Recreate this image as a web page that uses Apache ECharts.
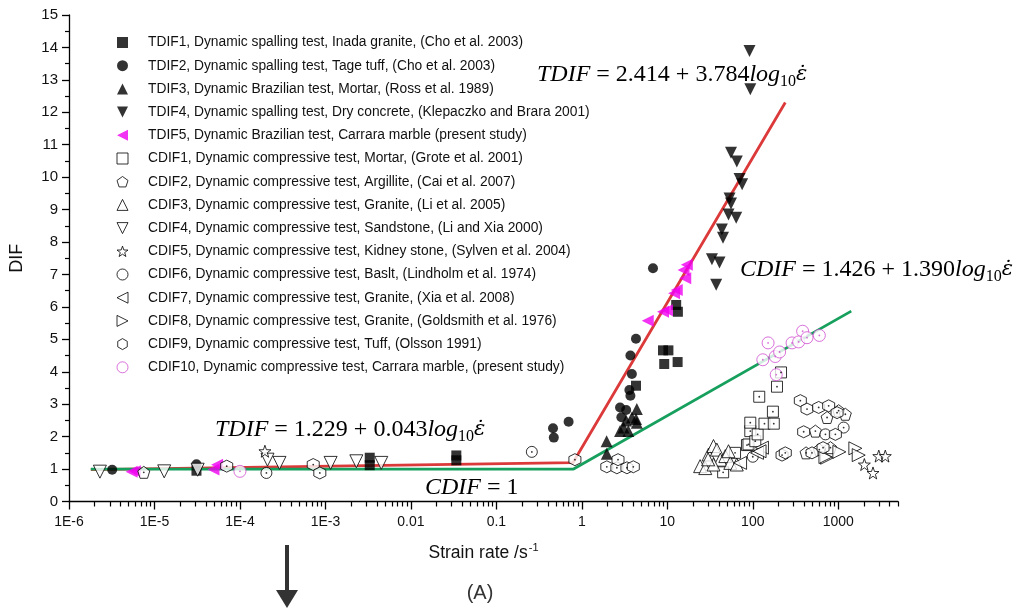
<!DOCTYPE html>
<html>
<head>
<meta charset="utf-8">
<script src="https://cdn.jsdelivr.net/npm/echarts@6/dist/echarts.min.js"></script>
<style>
html,body{margin:0;padding:0;background:#fff;}
#main{width:1025px;height:608px;}
</style>
</head>
<body>
<div id="main"></div>
<script>
// x 轴刻度
var xTickValues = [1e-6, 1e-5, 1e-4, 1e-3, 0.01, 0.1, 1, 10, 100, 1000];
var xTickLabels = ['1E-6', '1E-5', '1E-4', '1E-3', '0.01', '0.1', '1', '10', '100', '1000'];

// 图例名称
var seriesNames = [
	'TDIF1, Dynamic spalling test, Inada granite, (Cho et al. 2003)',
	'TDIF2, Dynamic spalling test, Tage tuff, (Cho et al. 2003)',
	'TDIF3, Dynamic Brazilian test, Mortar, (Ross et al. 1989)',
	'TDIF4, Dynamic spalling test, Dry concrete, (Klepaczko and Brara 2001)',
	'TDIF5, Dynamic Brazilian test, Carrara marble (present study)',
	'CDIF1, Dynamic compressive test, Mortar, (Grote et al. 2001)',
	'CDIF2, Dynamic compressive test, Argillite, (Cai et al. 2007)',
	'CDIF3, Dynamic compressive test, Granite, (Li et al. 2005)',
	'CDIF4, Dynamic compressive test, Sandstone, (Li and Xia 2000)',
	'CDIF5, Dynamic compressive test, Kidney stone, (Sylven et al. 2004)',
	'CDIF6, Dynamic compressive test, Baslt, (Lindholm et al. 1974)',
	'CDIF7, Dynamic compressive test, Granite, (Xia et al. 2008)',
	'CDIF8, Dynamic compressive test, Granite, (Goldsmith et al. 1976)',
	'CDIF9, Dynamic compressive test, Tuff, (Olsson 1991)',
	'CDIF10, Dynamic compressive test, Carrara marble, (present study)'
];

// 数据 [应变率, DIF]
var tdif1 = [[3.1e-5,0.95],[3.3e-3,1.35],[3.3e-3,1.12],[0.034,1.42],[0.034,1.27],[4.3,3.57],[8.9,4.66],[10.3,4.66],[9.2,4.24],[13.2,4.3],[12.7,6.06],[13.3,5.85]];
var tdif2 = [[3.2e-6,0.98],[3.1e-5,1.15],[0.46,2.26],[0.47,1.97],[0.7,2.46],[2.8,2.9],[3.3,2.82],[2.9,2.6],[3.6,3.44],[3.7,3.26],[3.85,3.93],[3.7,4.5],[4.3,5.02],[6.8,7.19]];
var tdif3 = [[1.95,1.86],[1.96,1.47],[2.8,2.17],[3.07,2.28],[3.5,2.17],[3.85,2.59],[4.3,2.54],[4.4,2.85],[4.4,2.43],[3.3,2.5]];
var tdif4 = [[55.6,10.75],[65,10.48],[70,9.94],[75,9.78],[53.5,9.34],[55.6,9.19],[52,8.85],[64,8.75],[43.5,8.39],[44.8,8.13],[33.3,7.47],[40.8,7.37],[37.3,6.68],[91.6,13.89],[93.5,12.71]];
var tdif5 = [[5.4e-6,0.92],[5.9e-6,0.93],[4.9e-5,0.99],[5.4e-5,1.13],[5.9,5.57],[8.9,5.85],[9.9,5.9],[12,6.42],[12.9,6.52],[16.2,6.88],[15.5,7.14],[16.9,7.3]];
var cdif1 = [[85.5,1.74],[89,1.76],[93.5,2.17],[93.5,2.43],[107,1.86],[114,2.07],[119,3.23],[137,2.4],[172,2.77],[176,2.4],[192,3.54],[214,3.98],[62,1.5],[45,0.9]];
var cdif2 = [[7.5e-6,0.9],[540,2.17],[740,2.59],[1010,2.8],[1210,2.69],[810,1.66],[600,1.6],[420,1.5]];
var cdif3 = [[24.2,1.09],[27.8,1.03],[30.4,1.45],[34.7,1.71],[38,1.6],[41.7,1.29],[47.7,1.4],[54.6,1.19],[34.7,1.14],[65,1.14],[52,1.55],[30,1.3]];
var cdif4 = [[2.3e-6,0.92],[1.3e-5,0.93],[3.2e-5,0.98],[2.1e-4,1.29],[2.9e-4,1.19],[1.15e-3,1.19],[2.3e-3,1.24],[4.5e-3,1.19]];
var cdif5 = [[1.96e-4,1.55],[2980,1.4],[3550,1.4],[2020,1.14],[2550,0.88]];
var cdif6 = [[2.04e-4,0.88],[0.26,1.53],[1156,2.28],[708,2.07],[100,1.38]];
var cdif7 = [[128,1.66],[112,1.5],[71,1.19],[120,1.55]];
var cdif8 = [[740,1.35],[1030,1.53],[1585,1.64],[1735,1.43],[708,1.37]];
var cdif9 = [[1.96,1.07],[2.57,1.04],[3.37,1.04],[4.0,1.07],[2.65,1.29],[0.83,1.29],[7e-5,1.09],[7.2e-4,1.14],[8.6e-4,0.88],[360,3.11],[431,2.85],[590,2.9],[772,2.95],[968,2.74],[394,2.15],[925,2.07],[220,1.43],[240,1.5],[493,1.5],[664,1.66]];
var cdif10 = [[1e-4,0.93],[151,4.89],[383,5.25],[601,5.12],[288,4.89],[344,4.92],[431,5.05],[131,4.37],[183,4.47],[206,4.61],[188,3.91]];

// 拟合线
var tdifLine = [[1.8e-6,0.98],[0.79,1.2],[240,12.3]];
var cdifLine = [[1.8e-6,1.0],[0.8,1.0],[1420,5.87]];

// 符号
var triUp = 'path://M5,0L10,10L0,10Z';
var triDown = 'path://M0,0L10,0L5,10Z';
var triLeft = 'path://M0,5L10,0L10,10Z';
var triRight = 'path://M0,0L10,5L0,10Z';
var pentagon = 'path://M0,-10L9.51,-3.09L5.88,8.09L-5.88,8.09L-9.51,-3.09Z';
var hexagon = 'path://M0,-10L8.66,-5L8.66,5L0,10L-8.66,5L-8.66,-5Z';
var star = 'path://M0,-10L2.35,-3.24L9.51,-3.09L3.8,1.24L5.88,8.09L0,4L-5.88,8.09L-3.8,1.24L-9.51,-3.09L-2.35,-3.24Z';

var filled = function(c){ return {color:c, borderWidth:0}; };
var hollow = function(c){ return {color:'#fff', borderColor:c, borderWidth:1}; };

var styles = [
	{data:tdif1, symbol:'rect', size:10, item:filled('#000')},
	{data:tdif2, symbol:'circle', size:10, item:filled('#000')},
	{data:tdif3, symbol:triUp, size:12, item:filled('#000')},
	{data:tdif4, symbol:triDown, size:12, item:filled('#000')},
	{data:tdif5, symbol:triLeft, size:12, item:filled('#f000f0')},
	{data:cdif1, symbol:'rect', size:11, item:hollow('#000'), dot:true},
	{data:cdif2, symbol:pentagon, size:12, item:hollow('#000'), dot:true},
	{data:cdif3, symbol:triUp, size:13, item:hollow('#000')},
	{data:cdif4, symbol:triDown, size:13, item:hollow('#000')},
	{data:cdif5, symbol:star, size:12, item:hollow('#000')},
	{data:cdif6, symbol:'circle', size:11, item:hollow('#000'), dot:true},
	{data:cdif7, symbol:triLeft, size:13, item:hollow('#000')},
	{data:cdif8, symbol:triRight, size:13, item:hollow('#000')},
	{data:cdif9, symbol:hexagon, size:12, item:hollow('#000'), dot:true},
	{data:cdif10, symbol:'circle', size:12, item:hollow('#d04fd0'), dot:true}
];

var minorValues = [];
for (var e = -6; e <= 3; e++) {
	for (var k = 2; k <= 9; k++) {
		var mv = k * Math.pow(10, e);
		if (mv <= 5000) minorValues.push(+mv.toPrecision(6));
	}
}

var series = [
	{type:'line', data:tdifLine, showSymbol:false, silent:true, z:1, lineStyle:{color:'#dc3a3a', width:2.8}},
	{type:'line', data:cdifLine, showSymbol:false, silent:true, z:1, lineStyle:{color:'#17a05d', width:2.8}}
];
styles.forEach(function(s, i){
	series.push({
		name: seriesNames[i],
		type: 'scatter',
		data: s.data,
		symbol: s.symbol,
		symbolSize: s.size,
		itemStyle: s.item,
		z: 3
	});
	//空心点中心的小点
	if (s.dot) {
		series.push({
			type: 'scatter',
			data: s.data,
			symbol: 'circle',
			symbolSize: 1.8,
			silent: true,
			itemStyle: {color: s.item.borderColor},
			z: 4
		});
	}
});

var eqFont = 'Liberation Serif';
function eqRich(color){
	return {
		i: {fontFamily:eqFont, fontStyle:'italic', fontSize:24, color:color, lineHeight:30},
		n: {fontFamily:eqFont, fontSize:24, color:color, lineHeight:30},
		e: {fontFamily:'DejaVu Serif', fontStyle:'italic', fontSize:21, color:color, lineHeight:30},
		s: {fontFamily:eqFont, fontSize:16, color:color, lineHeight:16, verticalAlign:'bottom'}
	};
}
function eqText(x, y, str, color){
	return {type:'text', x:x, y:y, style:{text:str, rich:eqRich(color), textVerticalAlign:'middle'}, z:10};
}

var chart = echarts.init(document.getElementById('main'));
var option = {
	backgroundColor: '#fff',
	animation: false,
	textStyle: {fontFamily:'Liberation Sans, Arial, sans-serif'},
	grid: {left:69, right:127, top:15, bottom:106.5},
	legend: {
		data: seriesNames,
		orient: 'vertical',
		left: 111.5,
		top: 30.5,
		itemWidth: 11,
		itemHeight: 11,
		itemGap: 9.2,
		itemStyle: {borderWidth:1},
		textStyle: {fontSize:13.8, color:'#111', lineHeight:14, padding:[0,0,0,15]},
		selectedMode: false
	},
	xAxis: [{
		type: 'log',
		logBase: 10,
		min: 1e-6,
		max: 5000,
		position: 'bottom',
		axisLine: {lineStyle:{color:'#000', width:1.3}},
		axisTick: {length:8, customValues:xTickValues, lineStyle:{color:'#000', width:1.3}},
		axisLabel: {
			customValues: xTickValues,
			fontSize: 14,
			color: '#111',
			margin: 14,
			formatter: function(v){
				var idx = Math.round(Math.log10(v)) + 6;
				return xTickLabels[idx] || '';
			}
		},
		splitLine: {show:false},
		name: '{a|Strain rate /s}{b|-1}',
		nameLocation: 'middle',
		nameGap: 41,
		nameTextStyle: {
			rich: {
				a: {fontSize:17.5, color:'#111', lineHeight:22},
				b: {fontSize:11, color:'#111', verticalAlign:'top', lineHeight:22, padding:[0,0,12,1]}
			}
		}
	}, {
		type: 'log',
		logBase: 10,
		min: 1e-6,
		max: 5000,
		position: 'bottom',
		axisLine: {show:false},
		axisTick: {length:5, customValues:minorValues, lineStyle:{color:'#000', width:1.2}},
		axisLabel: {show:false},
		splitLine: {show:false}
	}],
	yAxis: {
		type: 'value',
		min: 0,
		max: 15,
		interval: 1,
		axisLine: {show:true, lineStyle:{color:'#000', width:1.3}},
		axisTick: {show:true, length:7, lineStyle:{color:'#000', width:1.3}},
		minorTick: {show:true, splitNumber:2, length:4, lineStyle:{color:'#000', width:1.2}},
		axisLabel: {fontSize:15, color:'#111', margin:11},
		splitLine: {show:false},
		name: 'DIF',
		nameLocation: 'middle',
		nameGap: 43,
		nameTextStyle: {fontSize:18, color:'#111'}
	},
	graphic: [
		eqText(537, 75, '{i|TDIF}{n| = 2.414 + 3.784}{i|log}{s|10}{e|ε\u0307}', '#c8252b'),
		eqText(740, 270, '{i|CDIF}{n| = 1.426 + 1.390}{i|log}{s|10}{e|ε\u0307}', '#179a57'),
		eqText(215, 430, '{i|TDIF}{n| = 1.229 + 0.043}{i|log}{s|10}{e|ε\u0307}', '#c8252b'),
		eqText(425, 488, '{i|CDIF}{n| = 1}', '#179a57'),
		{type:'rect', shape:{x:285, y:545, width:4, height:47}, style:{fill:'#333'}},
		{type:'polygon', shape:{points:[[276,590],[298,590],[287,608]]}, style:{fill:'#333'}},
		{type:'text', x:480, y:593, style:{text:'(A)', fontSize:20, fill:'#333', textAlign:'center', textVerticalAlign:'middle', fontFamily:'Liberation Sans'}}
	],
	series: series
};
chart.setOption(option);
</script>
</body>
</html>
